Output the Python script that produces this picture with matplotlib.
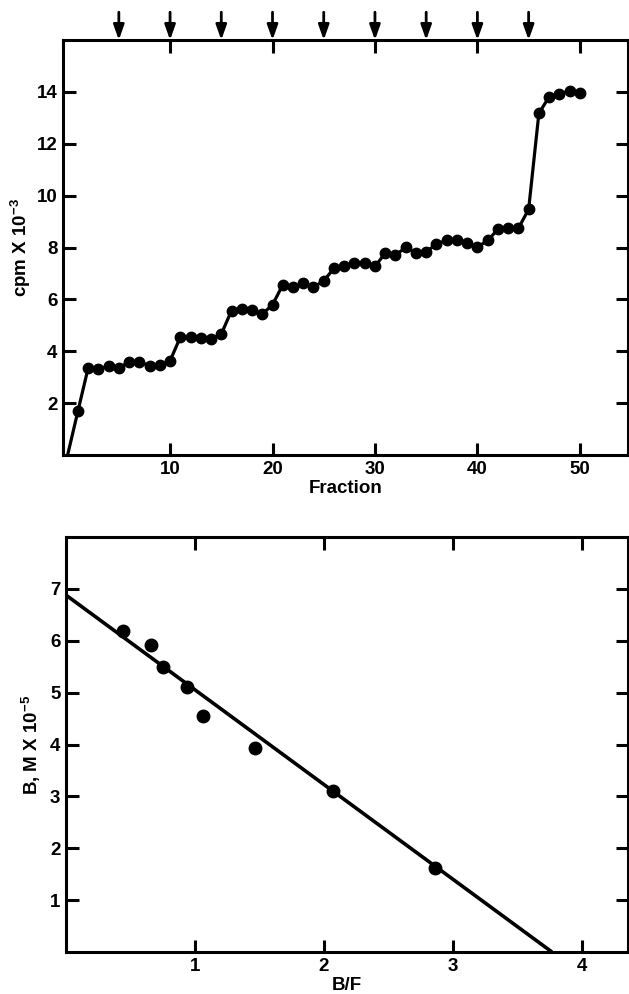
import matplotlib
matplotlib.use("Agg")
import matplotlib.pyplot as plt

plt.rcParams['font.family'] = ['Liberation Sans', 'DejaVu Sans']
plt.rcParams['font.weight'] = 'bold'
plt.rcParams['mathtext.default'] = 'regular'

# ---- Top panel data: elution profile ----
fractions = [0, 1, 2, 3, 4, 5, 6, 7, 8, 9, 10, 11, 12, 13, 14, 15, 16, 17, 18, 19, 20,
             21, 22, 23, 24, 25, 26, 27, 28, 29, 30, 31, 32, 33, 34, 35, 36, 37, 38, 39, 40,
             41, 42, 43, 44, 45, 46, 47, 48, 49, 50]
cpm = [0.0, 1.68, 3.35, 3.31, 3.44, 3.35, 3.60, 3.58, 3.45, 3.48, 3.63,
       4.54, 4.54, 4.50, 4.47, 4.66, 5.57, 5.62, 5.60, 5.43, 5.79,
       6.56, 6.47, 6.62, 6.47, 6.71, 7.20, 7.27, 7.39, 7.39, 7.27,
       7.78, 7.70, 8.01, 7.80, 7.83, 8.14, 8.27, 8.27, 8.19, 8.01,
       8.27, 8.70, 8.77, 8.74, 9.47, 13.17, 13.81, 13.92, 14.04, 13.94]
arrow_fractions = [5, 10, 15, 20, 25, 30, 35, 40, 45]
top_xticks = [10, 20, 30, 40, 50]
top_yticks = [2, 4, 6, 8, 10, 12, 14]

# ---- Bottom panel data: Scatchard plot ----
bf = [0.44, 0.66, 0.75, 0.94, 1.06, 1.47, 2.07, 2.86]
bound = [6.18, 5.92, 5.50, 5.10, 4.55, 3.93, 3.11, 1.61]
fit_x = [0.0, 3.77]
fit_y = [6.88, 0.0]
bot_xticks = [1, 2, 3, 4]
bot_yticks = [1, 2, 3, 4, 5, 6, 7]

W, H = 629, 994
fig = plt.figure(figsize=(W / 100, H / 100), dpi=100)

def axes_px(l, t, r, b):
    return fig.add_axes([l / W, 1 - b / H, (r - l) / W, (b - t) / H])

LW = 2.2
FS = 13.5

def style(ax, xt, yt):
    for s in ax.spines.values():
        s.set_linewidth(LW)
    ax.set_xticks(xt)
    ax.set_yticks(yt)
    ax.tick_params(direction='in', length=9, width=LW, top=True, right=True,
                   labeltop=False, labelright=False, labelsize=FS, pad=4)
    for lab in ax.get_xticklabels() + ax.get_yticklabels():
        lab.set_fontweight('bold')

# Top axes
ax1 = axes_px(63, 40, 628, 455)
ax1.plot(fractions, cpm, color='black', lw=2.3, marker='o', ms=7.5,
         markevery=list(range(1, len(fractions))), clip_on=False, zorder=3)
ax1.set_xlim(-0.45, 54.7)
ax1.set_ylim(0, 16)
style(ax1, top_xticks, top_yticks)
ax1.set_xlabel('Fraction', fontsize=FS, fontweight='bold', labelpad=2)
ax1.set_ylabel(r'cpm X 10$^{-3}$', fontsize=FS, fontweight='bold', labelpad=3)
for f in arrow_fractions:
    ax1.annotate('', xy=(f, 1.0), xycoords=('data', 'axes fraction'),
                 xytext=(0, 20), textcoords='offset points',
                 arrowprops=dict(arrowstyle='-|>,head_length=0.9,head_width=0.32',
                                 lw=2.0, color='black', shrinkA=0, shrinkB=0,
                                 mutation_scale=10),
                 annotation_clip=False)

# Bottom axes
ax2 = axes_px(66, 537, 628, 952)
ax2.plot(fit_x, fit_y, color='black', lw=2.6, solid_capstyle='butt')
ax2.plot(bf, bound, 'o', color='black', ms=9, zorder=3)
ax2.set_xlim(0, 4.36)
ax2.set_ylim(0, 8)
style(ax2, bot_xticks, bot_yticks)
ax2.set_xlabel('B/F', fontsize=FS, fontweight='bold', labelpad=2)
ax2.set_ylabel(r'B, M X 10$^{-5}$', fontsize=FS, fontweight='bold', labelpad=5)

fig.savefig('out.png', dpi=100)
